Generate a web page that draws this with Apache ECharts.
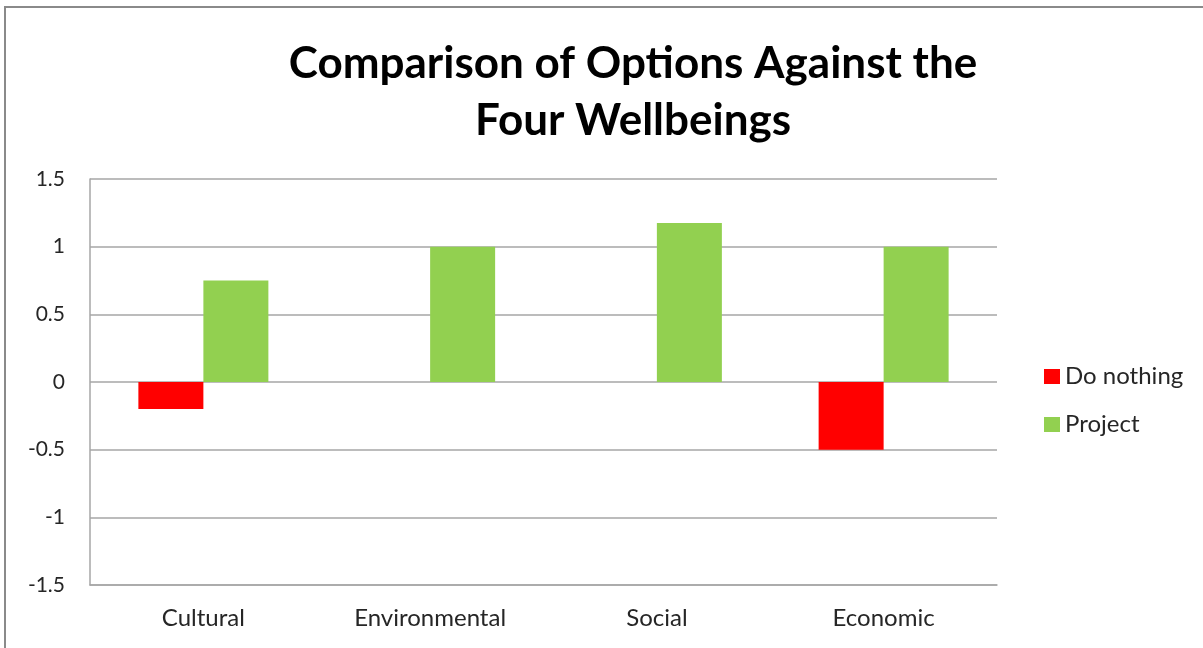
<!DOCTYPE html>
<html><head><meta charset="utf-8">
<script src="https://cdn.jsdelivr.net/npm/echarts@6/dist/echarts.min.js"></script>
<style>html,body{margin:0;padding:0;background:#fff;}#c{width:1203px;height:648px;}</style>
</head><body><div id="c"></div>
<script>
const categories = ['Cultural', 'Environmental', 'Social', 'Economic'];
const doNothing = [-0.2, 0, 0, -0.5];
const project = [0.75, 1, 1.175, 1];
const yTicks = [-1.5, -1, -0.5, 0, 0.5, 1, 1.5];

const chart = echarts.init(document.getElementById('c'));
const font = 'Lato, "Open Sans", sans-serif';
chart.setOption({
  animation: false,
  backgroundColor: '#fff',
  graphic: [{
    type: 'rect', shape: {x: 5, y: 7, width: 1400, height: 800},
    style: {fill: 'none', stroke: '#8a8a8a', lineWidth: 2}, silent: true
  }],
  title: {
    text: 'Comparison of Options Against the\nFour Wellbeings',
    left: 628, top: 30, textAlign: 'center',
    textStyle: {fontFamily: font, fontWeight: 'bold', fontSize: 44, lineHeight: 57, color: '#000'}
  },
  legend: {
    orient: 'vertical', left: 1039, top: 359, itemWidth: 16, itemHeight: 15, itemGap: 23,
    icon: 'rect',
    textStyle: {fontFamily: font, fontSize: 24, lineHeight: 25, color: '#262626', padding: [0, 0, 0, 0]},
    data: ['Do nothing', 'Project']
  },
  grid: {left: 90, right: 206, top: 179, bottom: 63, containLabel: false},
  xAxis: {
    type: 'category', data: categories,
    axisLine: {onZero: false, lineStyle: {color: '#a6a6a6', width: 1.5}},
    axisTick: {show: false},
    axisLabel: {fontFamily: font, fontSize: 24, color: '#262626', margin: 21}
  },
  yAxis: {
    type: 'value', min: yTicks[0], max: yTicks[yTicks.length - 1], interval: 0.5,
    axisLine: {show: true, lineStyle: {color: '#a6a6a6', width: 1.5}},
    axisTick: {show: false},
    axisLabel: {fontFamily: font, fontSize: 21, color: '#262626', margin: 25},
    splitLine: {lineStyle: {color: '#a6a6a6', width: 1.5}}
  },
  series: [
    {name: 'Do nothing', type: 'bar', data: doNothing, barWidth: 65, barGap: '0%',
     itemStyle: {color: '#ff0000'}},
    {name: 'Project', type: 'bar', data: project, barWidth: 65,
     itemStyle: {color: '#92d050'}}
  ]
});
</script></body></html>
